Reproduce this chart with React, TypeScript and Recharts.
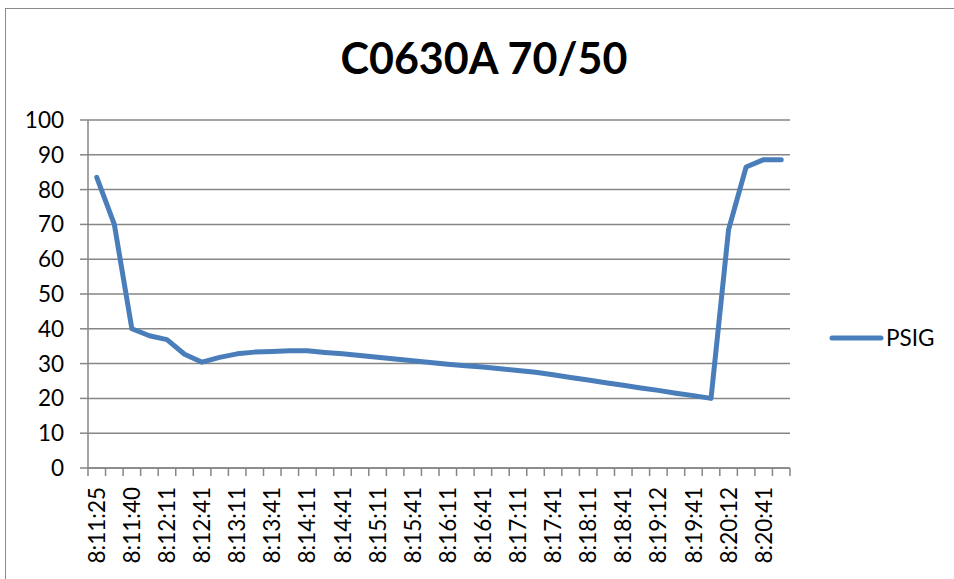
import { CartesianGrid, Line, LineChart, XAxis, YAxis } from "recharts";

const TIMES = [
  "8:11:25", "8:11:33", "8:11:40", "8:11:56", "8:12:11", "8:12:26",
  "8:12:41", "8:12:56", "8:13:11", "8:13:26", "8:13:41", "8:13:56",
  "8:14:11", "8:14:26", "8:14:41", "8:14:56", "8:15:11", "8:15:26",
  "8:15:41", "8:15:56", "8:16:11", "8:16:26", "8:16:41", "8:16:56",
  "8:17:11", "8:17:26", "8:17:41", "8:17:56", "8:18:11", "8:18:26",
  "8:18:41", "8:18:56", "8:19:12", "8:19:27", "8:19:41", "8:19:56",
  "8:20:12", "8:20:27", "8:20:41", "8:20:56",
];

const PSIG = [
  83.5, 70, 40, 38, 36.9, 32.7, 30.4, 31.8, 32.8, 33.3,
  33.5, 33.7, 33.7, 33.2, 32.8, 32.3, 31.8, 31.3, 30.8, 30.3,
  29.8, 29.4, 29.0, 28.5, 28.0, 27.5, 26.8, 26.0, 25.3, 24.5,
  23.8, 23.0, 22.3, 21.5, 20.8, 20.0, 68.5, 86.5, 88.6, 88.6,
];

const Y_TICKS = [0, 10, 20, 30, 40, 50, 60, 70, 80, 90, 100];

const FONT = "Lato, 'Open Sans', sans-serif";
const AXIS_GRAY = "#868686";
const LINE_BLUE = "#4a7ebb";

const data = TIMES.map((t, i) => ({ time: t, PSIG: PSIG[i] }));

function TimeTick(props: any) {
  const { x, y, payload, index } = props;
  const half = payload?.offset || 8.775;
  const last = index === TIMES.length - 1;
  return (
    <g>
      <line x1={x - half} y1={y - 8} x2={x - half} y2={y} stroke={AXIS_GRAY} strokeWidth={1.5} />
      {last && (
        <line x1={x + half} y1={y - 8} x2={x + half} y2={y} stroke={AXIS_GRAY} strokeWidth={1.5} />
      )}
      {index % 2 === 0 && (
        <text
          x={0}
          y={0}
          dy="0.36em"
          textAnchor="end"
          transform={`translate(${x},${y + 11}) rotate(-90)`}
          fontSize={22.5}
          fontFamily={FONT}
          fill="#000"
        >
          {payload.value}
        </text>
      )}
    </g>
  );
}

export default function App() {
  return (
    <div style={{ position: "absolute", left: 0, top: 0, width: 954, height: 579, background: "#fff", overflow: "hidden" }}>
      <div
        style={{
          position: "absolute",
          left: 5,
          top: 8,
          width: 960,
          height: 600,
          border: "1.5px solid #8a8a8a",
          boxSizing: "border-box",
        }}
      />
      <div
        style={{
          position: "absolute",
          left: 0,
          top: 30,
          width: 968,
          textAlign: "center",
          fontFamily: FONT,
          fontWeight: 700,
          fontSize: 43,
          lineHeight: "56px",
          color: "#000",
        }}
      >
        C0630A 70/50
      </div>
      <div
        style={{
          position: "absolute",
          left: 826,
          top: 324,
          display: "flex",
          alignItems: "center",
          fontFamily: FONT,
        }}
      >
        <svg width={58} height={10}>
          <line x1={6} y1={5} x2={55} y2={5} stroke={LINE_BLUE} strokeWidth={5} strokeLinecap="round" />
        </svg>
        <span style={{ fontSize: 22.5, color: "#000", marginLeft: 2 }}>PSIG</span>
      </div>
      <div style={{ position: "absolute", left: 0, top: 0 }}>
        <LineChart
          width={954}
          height={579}
          data={data}
          margin={{ top: 120, right: 164, bottom: 0, left: 0 }}
        >
          <CartesianGrid vertical={false} stroke={AXIS_GRAY} strokeWidth={1.5} />
          <XAxis
            dataKey="time"
            scale="band"
            interval={0}
            height={111}
            tickSize={8}
            tickMargin={0}
            tickLine={false}
            axisLine={{ stroke: AXIS_GRAY, strokeWidth: 1.5 }}
            tick={<TimeTick />}
          />
          <YAxis
            domain={[0, 100]}
            ticks={Y_TICKS}
            width={88}
            tickSize={8}
            tickMargin={16}
            axisLine={{ stroke: AXIS_GRAY, strokeWidth: 1.5 }}
            tickLine={{ stroke: AXIS_GRAY, strokeWidth: 1.5 }}
            tick={{ fontSize: 22.5, fontFamily: FONT, fill: "#000" }}
          />
          <Line
            type="linear"
            dataKey="PSIG"
            stroke={LINE_BLUE}
            strokeWidth={5}
            strokeLinecap="round"
            strokeLinejoin="round"
            dot={false}
            isAnimationActive={false}
          />
        </LineChart>
      </div>
    </div>
  );
}
